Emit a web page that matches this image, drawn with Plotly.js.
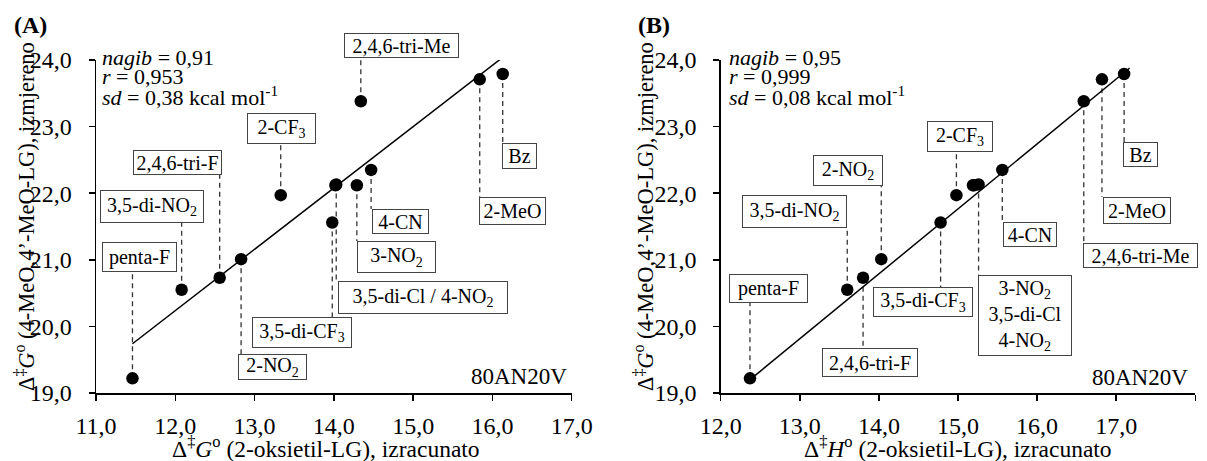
<!DOCTYPE html>
<html><head><meta charset="utf-8">
<script src="https://cdn.plot.ly/plotly-3.0.1.min.js"></script>
<style>html,body{margin:0;padding:0;background:#fff}#chart{width:1207px;height:461px}</style>
</head><body><div id="chart"></div>
<script>
// ---------- data ----------
const compounds = ['penta-F','3,5-di-NO2','2,4,6-tri-F','2-NO2','2-CF3','3,5-di-CF3','3,5-di-Cl','4-NO2','3-NO2','4-CN','2,4,6-tri-Me','2-MeO','Bz'];
const measuredG = [19.22, 20.55, 20.73, 21.01, 21.97, 21.56, 22.12, 22.13, 22.12, 22.35, 23.38, 23.71, 23.79];
const calcG     = [11.46, 12.08, 12.56, 12.83, 13.33, 13.98, 14.02, 14.03, 14.29, 14.47, 14.34, 15.84, 16.13];
const calcH     = [12.37, 13.60, 13.80, 14.03, 14.98, 14.78, 15.19, 15.26, 15.20, 15.56, 16.59, 16.82, 17.10];
const fitAx = [11.46, 16.13];
const fitAy = [19.74, 24.04];
const fitBx = [12.37, 17.17];
const fitBy = [19.20, 23.88];
const xTicksA = [11, 12, 13, 14, 15, 16, 17];
const xTicksB = [12, 13, 14, 15, 16, 17, 18];
const yTicks = [19, 20, 21, 22, 23, 24];
const statsA = ['<i>nagib</i> = 0,91', '<i>r</i> = 0,953', '<i>sd</i> = 0,38 kcal mol<sup>-1</sup>'];
const statsB = ['<i>nagib</i> = 0,95', '<i>r</i> = 0,999', '<i>sd</i> = 0,08 kcal mol<sup>-1</sup>'];
const solventLabel = '80AN20V';

// ---------- layout helpers ----------
const W = 1207, H = 461;
const FONT = 'Liberation Serif, Times New Roman, serif';
const Y_BOT = 393, Y_TOP = 60;
const AX_A = [96, 571.7], AX_B = [720.7, 1195.3];
const px = x => x / W;
const py = y => 1 - y / H;
const pyToData = y => 19 + (Y_BOT - y) * 5 / (Y_BOT - Y_TOP);
const fmt = v => v.toFixed(1).replace('.', ',');

// label boxes: idx = compound used for leader, (cx, cy) box centre px, w/h box size px, edge = leader end px
const labelsA = [
  {idx:0, text:'penta-F', cx:139.5, cy:257, w:75, h:30, edge:272},
  {idx:1, text:'3,5-di-NO<sub>2</sub>', cx:152, cy:206.5, w:104, h:33, edge:223},
  {idx:2, text:'2,4,6-tri-F', cx:177.5, cy:162, w:89, h:25, edge:174},
  {idx:3, text:'2-NO<sub>2</sub>', cx:272.5, cy:367, w:69, h:26, edge:355},
  {idx:4, text:'2-CF<sub>3</sub>', cx:281.5, cy:128.5, w:69, h:31, edge:144},
  {idx:5, text:'3,5-di-CF<sub>3</sub>', cx:302, cy:332.5, w:100, h:31, edge:317},
  {idx:7, text:'3,5-di-Cl / 4-NO<sub>2</sub>', cx:423, cy:297.5, w:170, h:33, edge:281},
  {idx:8, text:'3-NO<sub>2</sub>', cx:396.5, cy:257, w:79, h:32, edge:241},
  {idx:9, text:'4-CN', cx:400.5, cy:221.5, w:57, h:25, edge:209},
  {idx:10, text:'2,4,6-tri-Me', cx:401.5, cy:45.5, w:115, h:25, edge:58},
  {idx:11, text:'2-MeO', cx:512.5, cy:211, w:67, h:28, edge:197},
  {idx:12, text:'Bz', cx:519.5, cy:156, w:35, h:26, edge:143}
];
const labelsB = [
  {idx:0, text:'penta-F', cx:768.5, cy:288.5, w:79, h:29, edge:303},
  {idx:1, text:'3,5-di-NO<sub>2</sub>', cx:794.5, cy:211.5, w:105, h:33, edge:228},
  {idx:2, text:'2,4,6-tri-F', cx:870, cy:362.5, w:96, h:29, edge:348},
  {idx:3, text:'2-NO<sub>2</sub>', cx:848, cy:170.5, w:70, h:31, edge:186},
  {idx:4, text:'2-CF<sub>3</sub>', cx:960, cy:136.5, w:66, h:31, edge:152},
  {idx:5, text:'3,5-di-CF<sub>3</sub>', cx:923, cy:302, w:100, h:30, edge:287},
  {idx:7, text:'3-NO<sub>2</sub><br>3,5-di-Cl<br>4-NO<sub>2</sub>', cx:1025, cy:315.5, w:94, h:81, edge:275},
  {idx:9, text:'4-CN', cx:1030, cy:234.5, w:54, h:25, edge:222},
  {idx:10, text:'2,4,6-tri-Me', cx:1140.5, cy:255.5, w:115, h:25, edge:243},
  {idx:11, text:'2-MeO', cx:1137, cy:210.5, w:68, h:27, edge:197},
  {idx:12, text:'Bz', cx:1140.5, cy:154.5, w:35, h:25, edge:142}
];

// ---------- traces ----------
const traces = [
  {x: fitAx, y: fitAy, mode:'lines', line:{color:'#000', width:1.5}, xaxis:'x', yaxis:'y', hoverinfo:'skip', cliponaxis:false},
  {x: calcG, y: measuredG, text: compounds, mode:'markers', marker:{color:'#000', size:12.5}, xaxis:'x', yaxis:'y', cliponaxis:false},
  {x: fitBx, y: fitBy, mode:'lines', line:{color:'#000', width:1.5}, xaxis:'x2', yaxis:'y2', hoverinfo:'skip', cliponaxis:false},
  {x: calcH, y: measuredG, text: compounds, mode:'markers', marker:{color:'#000', size:12.5}, xaxis:'x2', yaxis:'y2', cliponaxis:false}
];

// ---------- axes ----------
const TICKFONT = {family:FONT, size:24, color:'#000'};
function xAxis(dom, ticks) {
  return {
    domain: [px(dom[0]), px(dom[1])], range: [ticks[0], ticks[ticks.length-1]],
    tickvals: ticks, ticktext: ticks.map(fmt),
    showgrid:false, zeroline:false, showline:true, linecolor:'#000', linewidth:1.5,
    ticks:'outside', ticklen:6, tickwidth:1.5, tickcolor:'#000', ticklabelstandoff:5,
    tickfont:TICKFONT, fixedrange:true
  };
}
function yAxis(anchor) {
  return {
    domain: [py(Y_BOT), py(Y_TOP)], range:[19, 24], anchor: anchor,
    tickvals: yTicks, ticktext: yTicks.map(fmt),
    showgrid:false, zeroline:false, showline:true, linecolor:'#000', linewidth:1.5,
    ticks:'outside', ticklen:6, tickwidth:1.5, tickcolor:'#000', ticklabelstandoff:12,
    tickfont:TICKFONT, fixedrange:true
  };
}

// ---------- annotations & shapes ----------
const annotations = [];
const shapes = [];
function txt(text, x, y, opts) {
  annotations.push(Object.assign({text, x:px(x), y:py(y), xref:'paper', yref:'paper', showarrow:false,
    xanchor:'left', yanchor:'middle', font:{family:FONT, size:22, color:'#000'}}, opts || {}));
}
function addLabels(list, xs, xref, yref) {
  list.forEach(l => {
    shapes.push({type:'line', xref, yref, x0: xs[l.idx], x1: xs[l.idx], y0: measuredG[l.idx], y1: pyToData(l.edge),
      line:{color:'#333', width:1.3, dash:'5px,4px'}, layer:'below'});
    annotations.push({text:l.text, x:px(l.cx), y:py(l.cy), xref:'paper', yref:'paper', showarrow:false,
      xanchor:'center', yanchor:'middle', align:'center', valign:'middle',
      width: l.w - 2, height: l.h - 2,
      bgcolor:'#fff', bordercolor:'#444', borderwidth:1, borderpad:0,
      font:{family:FONT, size:20, color:'#000'}});
  });
}
addLabels(labelsA, calcG, 'x', 'y');
addLabels(labelsB, calcH, 'x2', 'y2');

// stats blocks
[[statsA, 100], [statsB, 727]].forEach(([s, x0]) => {
  s.forEach((t, i) => txt(t, x0, 57 + i * 19.5));
});
// solvent
txt(solventLabel, AX_A[1] - 3, 376, {xanchor:'right', font:{family:FONT, size:23, color:'#000'}});
txt(solventLabel, AX_B[1] - 5, 377, {xanchor:'right', font:{family:FONT, size:23, color:'#000'}});
// panel letters
txt('<b>(A)</b>', 12, 25, {font:{family:FONT, size:24, color:'#000'}});
txt('<b>(B)</b>', 636, 25, {font:{family:FONT, size:24, color:'#000'}});
// axis titles
const TITLEFONT = {family:FONT, size:23.5, color:'#000'};
const YTITLEFONT = {family:FONT, size:22.5, color:'#000'};
const yTitle = 'Δ<sup>‡</sup><i>G</i><sup>o</sup> (4-MeO,4’-MeO-LG), izmjereno';
txt('Δ<sup>‡</sup><i>G</i><sup>o</sup> (2-oksietil-LG), izracunato', 326, 446.5, {xanchor:'center', font:TITLEFONT});
txt('Δ<sup>‡</sup><i>H</i><sup>o</sup> (2-oksietil-LG), izracunato', 958, 446.5, {xanchor:'center', font:TITLEFONT});
txt(yTitle, 25, 217, {xanchor:'center', textangle:-90, font:YTITLEFONT});
txt(yTitle, 644, 217, {xanchor:'center', textangle:-90, font:YTITLEFONT});

const layout = {
  width: W, height: H, margin:{l:0, r:0, t:0, b:0},
  paper_bgcolor:'#fff', plot_bgcolor:'rgba(0,0,0,0)', showlegend:false,
  separators: ', ',
  font:{family:FONT, color:'#000'},
  xaxis: xAxis(AX_A, xTicksA), yaxis: yAxis('x'),
  xaxis2: xAxis(AX_B, xTicksB), yaxis2: yAxis('x2'),
  annotations, shapes
};
layout.xaxis.anchor = 'y';
layout.xaxis2.anchor = 'y2';

Plotly.newPlot('chart', traces, layout, {displayModeBar:false, staticPlot:true});
</script>
</body></html>
